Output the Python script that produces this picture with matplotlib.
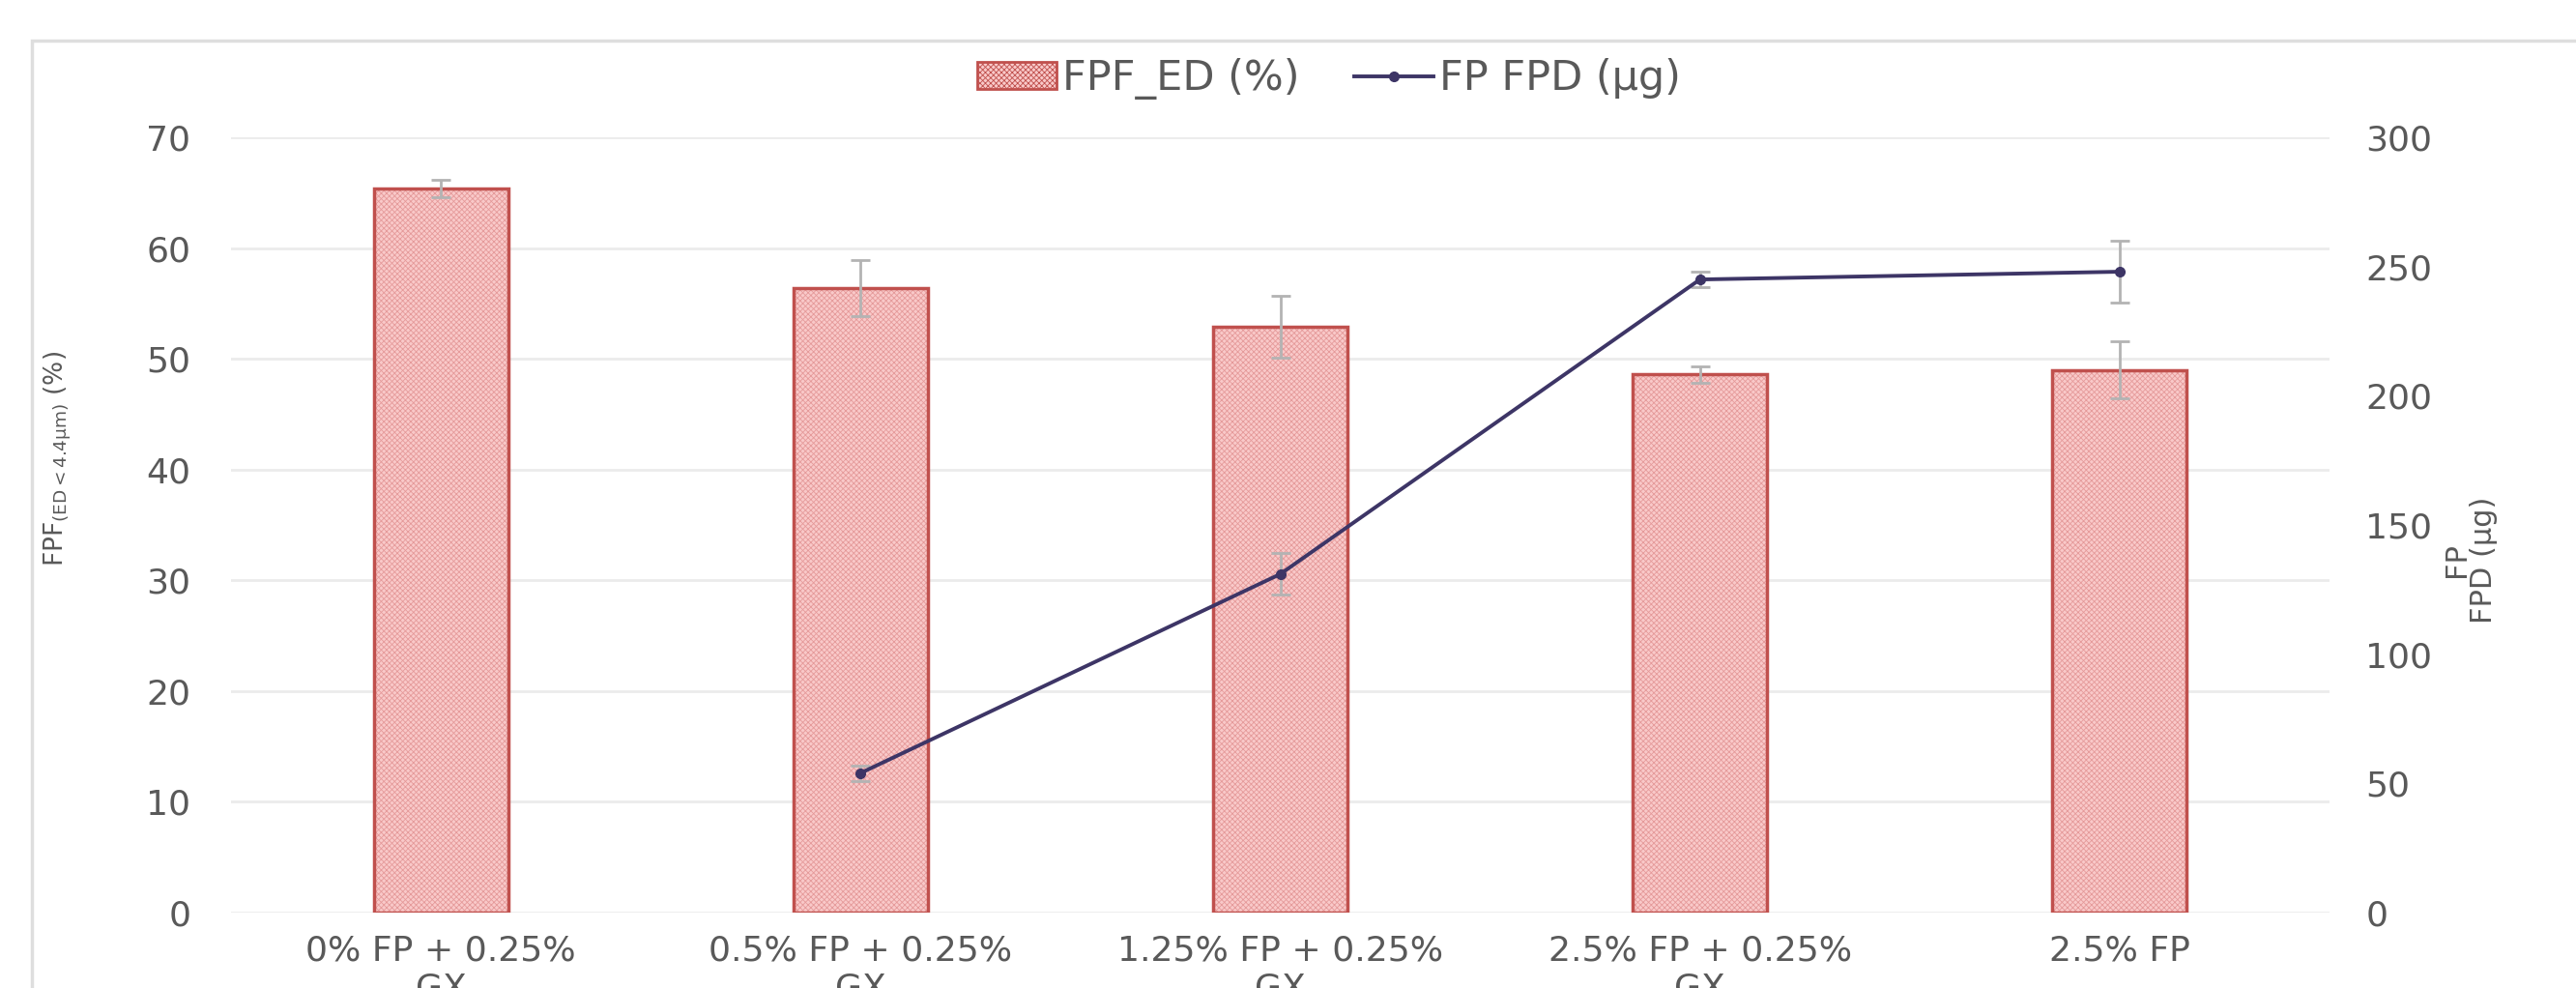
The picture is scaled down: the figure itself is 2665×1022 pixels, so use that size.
import matplotlib
matplotlib.use("Agg")
import matplotlib.pyplot as plt
import numpy as np
from matplotlib.lines import Line2D
from matplotlib.patches import Patch, Rectangle

# data
categories = ["0% FP + 0.25%\nGX", "0.5% FP + 0.25%\nGX", "1.25% FP + 0.25%\nGX",
              "2.5% FP + 0.25%\nGX", "2.5% FP"]
fpf_ed = [65.4, 56.4, 52.9, 48.6, 49.0]
fpf_err = [0.8, 2.5, 2.8, 0.75, 2.6]
fp_fpd = [np.nan, 54, 131, 245, 248]
fpd_err = [np.nan, 3, 8, 3, 12]

left_ticks = list(range(0, 80, 10))
right_ticks = list(range(0, 350, 50))

TICK_COLOR = "#595959"
BAR_FACE = "#f9c9c9"
BAR_HATCH = "#e59a9a"
BAR_EDGE = "#c0504d"
LINE_COLOR = "#3d3566"
ERR_COLOR = "#b3b3b3"

plt.rcParams["hatch.linewidth"] = 0.6

fig = plt.figure(figsize=(26.65, 10.22), dpi=100)
ax1 = fig.add_axes([0.0897, 0.0763, 0.8146, 0.7847])
ax2 = ax1.twinx()

x = np.arange(len(categories))
w = 0.32

# bars: hatched fill, then outline on top
ax1.bar(x, fpf_ed, width=w, color=BAR_FACE, edgecolor=BAR_HATCH, hatch="xxxxxx",
        linewidth=0, zorder=2)
ax1.bar(x, fpf_ed, width=w, fill=False, edgecolor=BAR_EDGE, linewidth=2.5, zorder=3)
ax1.errorbar(x, fpf_ed, yerr=fpf_err, fmt="none", ecolor=ERR_COLOR, elinewidth=2,
             capsize=7, capthick=2, zorder=4)

ax2.errorbar(x, fp_fpd, yerr=fpd_err, fmt="none", ecolor=ERR_COLOR, elinewidth=2,
             capsize=7, capthick=2, zorder=2)
ax2.plot(x, fp_fpd, color=LINE_COLOR, linewidth=2.8, marker="o", markersize=7, zorder=3)

ax1.set_xlim(-0.5, len(categories) - 0.5)
ax1.set_ylim(0, 70)
ax2.set_ylim(0, 300)
ax1.set_yticks(left_ticks)
ax2.set_yticks(right_ticks)
ax1.set_xticks(x)
ax1.set_xticklabels(categories, fontsize=26, color=TICK_COLOR, linespacing=1.2)

ax1.grid(axis="y", color="#ebebeb", linewidth=2)
ax1.set_axisbelow(True)
for ax in (ax1, ax2):
    for s in ax.spines.values():
        s.set_visible(False)
    ax.tick_params(length=0, labelsize=26, labelcolor=TICK_COLOR)
ax1.tick_params(axis="y", pad=30)
ax2.tick_params(axis="y", pad=27)
ax1.tick_params(axis="x", pad=16)

ax1.set_ylabel(r"FPF$_{\mathregular{(ED<4.4\mu m)}}$ (%)", fontsize=19, color=TICK_COLOR)
ax1.yaxis.set_label_coords(-0.075, 0.585)
ax2.set_ylabel("FP\nFPD (\u00b5g)", fontsize=22, color=TICK_COLOR, rotation=90,
               linespacing=0.95)
ax2.yaxis.set_label_coords(1.054, 0.455)

handles = [
    Patch(facecolor=BAR_FACE, edgecolor=BAR_EDGE, hatch="xxxxxx", linewidth=2),
    Line2D([], [], color=LINE_COLOR, linewidth=2.8, marker="o", markersize=7),
]
fig.legend(handles, ["FPF_ED (%)", "FP FPD (\u00b5g)"], loc="center",
           bbox_to_anchor=(0.516, 0.92), ncol=2, frameon=False, handlelength=1.9,
           handleheight=0.6, handletextpad=0.15, columnspacing=1.3,
           prop={"size": 31}, labelcolor=TICK_COLOR)

# outer chart frame (cropped on right and bottom)
fig.patches.append(Rectangle((33 / 2665, -0.2), 1.2, 0.2 + 1 - 42 / 1022,
                             transform=fig.transFigure, fill=False,
                             edgecolor="#dedede", linewidth=2.5))

fig.savefig("out.png", dpi=100, facecolor="white")
